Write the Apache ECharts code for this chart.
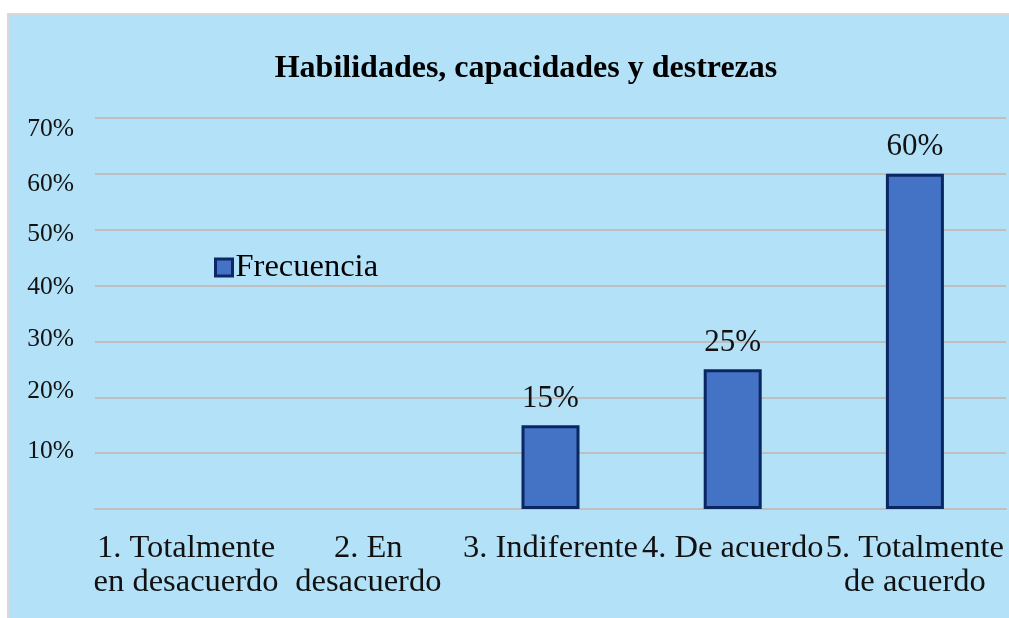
<!DOCTYPE html>
<html>
<head>
<meta charset="utf-8">
<script src="https://cdn.jsdelivr.net/npm/echarts@6/dist/echarts.min.js"></script>
<style>
html,body{margin:0;padding:0;background:#fff;}
#c{width:1009px;height:618px;}
</style>
</head>
<body>
<div id="c"></div>
<script>
var categories = ['1. Totalmente\nen desacuerdo', '2. En\ndesacuerdo', '3. Indiferente', '4. De acuerdo', '5. Totalmente\nde acuerdo'];
var frecuencia = [0, 0, 15, 25, 60];
var yTicks = [0, 10, 20, 30, 40, 50, 60, 70];

var chart = echarts.init(document.getElementById('c'));
var font = '"Liberation Serif", "Times New Roman", serif';

// small vertical nudges of y tick labels, as in the reference rendering
var yNudge = {10: -2, 20: -6, 30: -2, 40: 2, 50: 5, 60: 10, 70: 11};
var yRich = {};
yTicks.forEach(function (t) {
  var d = yNudge[t] || 0;
  yRich['t' + t] = {
    fontFamily: font, fontSize: 25.5, color: '#111',
    padding: d >= 0 ? [2 * d, 0, 0, 0] : [0, 0, -2 * d, 0]
  };
});

chart.setOption({
  animation: false,
  graphic: [{
    type: 'rect', z: -10,
    shape: {x: 8, y: 14, width: 1010, height: 620},
    style: {fill: '#B3E1F7', stroke: '#D9D9D9', lineWidth: 2}
  }],
  title: {
    text: 'Habilidades, capacidades y destrezas',
    left: 521, top: 48, textAlign: 'center',
    textStyle: {fontFamily: font, fontSize: 32, fontWeight: 'bold', color: '#000'}
  },
  legend: {
    left: 209, top: 246,
    icon: 'rect',
    itemWidth: 17, itemHeight: 17, itemGap: 5,
    textStyle: {fontFamily: font, fontSize: 32.5, color: '#000', padding: [0, 0, 0, -2]},
    itemStyle: {borderWidth: 3, borderColor: '#0C2866'},
    data: ['Frecuencia']
  },
  grid: {left: 95, right: 3, top: 118, bottom: 109, containLabel: false},
  xAxis: {
    type: 'category',
    data: categories,
    axisLine: {lineStyle: {color: '#BFBFBF', width: 2}},
    axisTick: {show: false},
    axisLabel: {fontFamily: font, fontSize: 32.5, color: '#111', margin: 22, lineHeight: 34, interval: 0}
  },
  yAxis: {
    type: 'value',
    min: yTicks[0], max: yTicks[yTicks.length - 1], interval: 10,
    axisLine: {show: false},
    axisTick: {show: false},
    splitLine: {lineStyle: {color: '#BFBFBF', width: 2}},
    axisLabel: {
      margin: 21,
      rich: yRich,
      formatter: function (v) { return v === 0 ? '' : '{t' + v + '|' + v + '%}'; }
    }
  },
  series: [{
    name: 'Frecuencia',
    type: 'bar',
    data: frecuencia.map(function (v) {
      return v === 0 ? {value: v, itemStyle: {borderWidth: 0}} : v;
    }),
    barWidth: 58,
    itemStyle: {color: '#4472C4', borderColor: '#0B2762', borderWidth: 3},
    label: {
      show: true, position: 'top', distance: 11,
      fontFamily: font, fontSize: 31, color: '#111',
      formatter: function (p) { return p.value === 0 ? '' : p.value + '%'; }
    }
  }]
});
</script>
</body>
</html>
